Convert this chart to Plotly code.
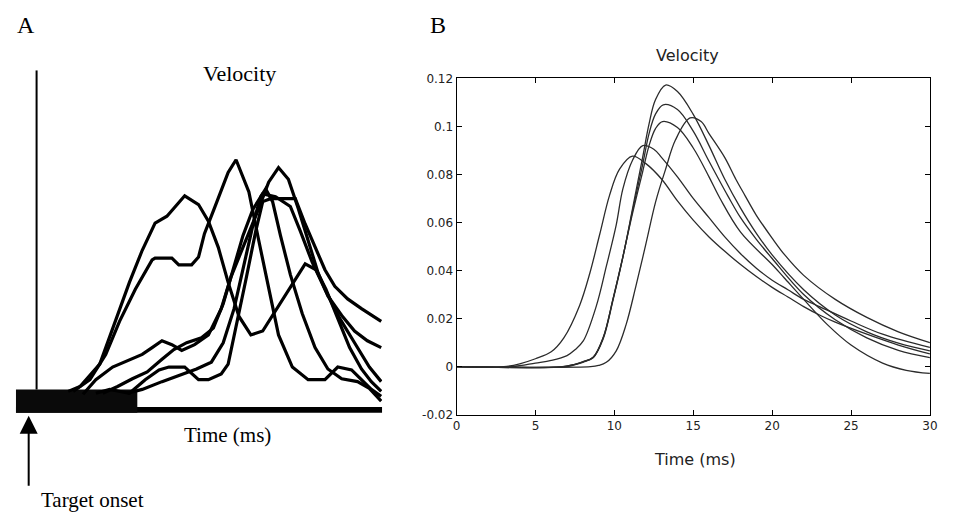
import plotly.graph_objects as go

W, H = 956, 520

# ---------------- Panel B data (time in ms, velocity) ----------------
b_t1 = [0, 3, 4, 5, 6, 6.8, 7.8, 8.45, 9.07, 9.7, 10.33, 11.15, 12, 13, 14, 15, 16, 17, 18, 19, 20, 21, 22, 23, 24, 26, 28, 30]
b_v1 = [0, 0, 0.0012, 0.0033, 0.0062, 0.012, 0.0255, 0.039, 0.055, 0.0714, 0.0822, 0.0876, 0.0845, 0.078, 0.069, 0.061, 0.054, 0.048, 0.0425, 0.0375, 0.033, 0.029, 0.025, 0.0215, 0.0185, 0.0135, 0.0090, 0.0053]

b_t2 = [0, 3.5, 5, 6, 7, 7.5, 8.03, 8.87, 9.49, 10.12, 10.54, 11.16, 11.8, 12.5, 13, 14, 15, 16, 17, 18, 19, 20, 21, 22, 23, 25, 27, 30]
b_v2 = [0, 0, 0.0015, 0.0026, 0.0046, 0.007, 0.0107, 0.0255, 0.0417, 0.059, 0.074, 0.086, 0.092, 0.0905, 0.087, 0.079, 0.070, 0.062, 0.054, 0.047, 0.041, 0.036, 0.032, 0.028, 0.025, 0.019, 0.0135, 0.0080]

b_t3 = [0, 6.7, 7.5, 8, 8.66, 9.29, 9.91, 10.54, 11.16, 11.79, 12.2, 12.6, 13.05, 14, 15, 16, 16.7, 18, 20, 20.76, 22, 23.5, 25, 27, 28.5, 30]
b_v3 = [0, 0, 0.001, 0.002, 0.0039, 0.012, 0.028, 0.0457, 0.064, 0.081, 0.092, 0.099, 0.102, 0.0995, 0.091, 0.079, 0.070, 0.056, 0.0425, 0.037, 0.028, 0.0175, 0.009, 0.0015, -0.0015, -0.0028]

b_t4 = [0, 6.8, 7.5, 8, 8.66, 9.29, 9.91, 10.54, 11.16, 11.79, 12.2, 12.6, 13.1, 14, 15, 16, 17.2, 18, 19, 20, 22, 24, 26, 28, 30]
b_v4 = [0, 0, 0.001, 0.002, 0.0039, 0.012, 0.028, 0.0457, 0.065, 0.084, 0.097, 0.105, 0.109, 0.107, 0.098, 0.0855, 0.071, 0.062, 0.053, 0.045, 0.030, 0.0195, 0.012, 0.0068, 0.0038]

b_t5 = [0, 7.0, 7.5, 8, 8.66, 9.29, 9.91, 10.54, 11.16, 11.79, 12.2, 12.6, 13.25, 14, 15, 16, 17, 18, 19, 20, 22, 24, 26, 28, 30]
b_v5 = [0, 0, 0.0008, 0.0018, 0.0037, 0.0115, 0.0275, 0.0455, 0.066, 0.087, 0.101, 0.111, 0.1172, 0.1145, 0.105, 0.092, 0.078, 0.066, 0.0555, 0.0465, 0.032, 0.0215, 0.0145, 0.0098, 0.0066]

b_t6 = [0, 8.5, 9, 9.49, 10.12, 10.74, 11.37, 12.0, 12.62, 13.25, 13.87, 14.8, 15.5, 16, 17, 17.7, 18.3, 19, 20, 20.8, 22, 24, 26, 28, 30]
b_v6 = [0, 0, 0.0005, 0.0018, 0.0066, 0.0174, 0.0336, 0.0511, 0.0687, 0.0822, 0.0943, 0.1035, 0.102, 0.097, 0.087, 0.078, 0.071, 0.063, 0.0535, 0.0465, 0.038, 0.028, 0.0205, 0.0145, 0.0100]

b_xticks = [0, 5, 10, 15, 20, 25, 30]
b_yticks = [-0.02, 0, 0.02, 0.04, 0.06, 0.08, 0.1, 0.12]
b_yticklabels = ["-0.02", "0", "0.02", "0.04", "0.06", "0.08", "0.1", "0.12"]

# ---------------- Panel A data (arbitrary time units, arbitrary velocity units) ----------------
a_u1 = [53, 65, 85, 98, 115, 128, 141, 153, 171, 185, 195, 205, 215, 226, 238, 250, 263, 278, 293, 304, 314, 326, 338, 350, 360, 370]
a_w1 = [0, 5, 28, 65, 112, 145, 173, 180, 201, 192, 175, 148, 112, 77, 58, 62, 83, 108, 131, 125, 105, 75, 45, 23, 10, 0]

a_u2 = [58, 75, 91, 105, 121, 138, 141, 158, 165, 178, 185, 191, 201, 215, 223, 236, 246, 256, 266, 280, 296, 313, 326, 340, 350, 360, 370]
a_w2 = [0, 12, 38, 72, 105, 135, 137, 137, 130, 130, 138, 162, 188, 225, 238, 205, 155, 105, 58, 25, 12, 12, 25, 22, 12, 2, -5]

a_u3 = [68, 81, 98, 115, 128, 138, 148, 158, 168, 181, 195, 208, 218, 226, 236, 246, 256, 266, 276, 286, 296, 306, 316, 330, 343, 356, 370]
a_w3 = [-3, 12, 25, 32, 38, 45, 52, 48, 42, 48, 58, 85, 118, 138, 162, 188, 215, 230, 218, 188, 155, 122, 98, 78, 62, 52, 45]

a_u4 = [81, 95, 115, 131, 145, 155, 171, 185, 195, 208, 215, 223, 233, 243, 250, 258, 283, 293, 303, 313, 323, 336, 350, 363, 370]
a_w4 = [-2, 2, -2, 12, 22, 25, 25, 12, 12, 18, 28, 65, 115, 165, 195, 198, 198, 172, 148, 125, 108, 95, 85, 77, 72]

a_u5 = [113, 128, 148, 166, 183, 198, 210, 221, 231, 241, 248, 253, 260, 268, 278, 290, 303, 316, 330, 346, 358, 370]
a_w5 = [-2, 2, 10, 17, 23, 30, 50, 85, 130, 175, 200, 208, 195, 160, 120, 80, 45, 23, 13, 10, 3, -10]

a_u6 = [88, 103, 118, 133, 148, 160, 173, 188, 200, 210, 220, 230, 240, 250, 263, 278, 288, 300, 313, 328, 343, 358, 370]
a_w6 = [-2, 5, 13, 20, 33, 43, 50, 55, 65, 90, 125, 160, 187, 203, 200, 190, 165, 133, 105, 75, 50, 25, 10]

# panel A frame elements (same arbitrary units)
a_onset_u = [21, 21]
a_onset_w = [2, 330]
a_block_u = [0, 123, 123, 0, 0]
a_block_w = [2, 2, -22, -22, 2]
a_base_u = [0, 371, 371, 0, 0]
a_base_w = [-16, -16, -22, -22, -16]

# ---------------- layout geometry (pixels) ----------------
A_L, A_R, A_T, A_B = 12, 383, 65, 417.3
B_L, B_R, B_T, B_B = 458.3, 937.7, 73.3, 419.0


def px(x):
    return x / W


def py(y):
    return 1 - y / H


fig = go.Figure()

curve_color = "#2b2b2b"
for t, v in [(b_t1, b_v1), (b_t2, b_v2), (b_t3, b_v3), (b_t4, b_v4), (b_t5, b_v5), (b_t6, b_v6)]:
    fig.add_trace(go.Scatter(x=t, y=v, mode="lines", line=dict(color=curve_color, width=1.3, shape="spline", smoothing=1.0),
                             xaxis="x", yaxis="y", showlegend=False, hoverinfo="skip"))

# panel A frame
fig.add_trace(go.Scatter(x=a_base_u, y=a_base_w, mode="lines", fill="toself", fillcolor="black",
                         line=dict(color="black", width=0), xaxis="x2", yaxis="y2", showlegend=False, hoverinfo="skip"))
fig.add_trace(go.Scatter(x=a_block_u, y=a_block_w, mode="lines", fill="toself", fillcolor="#0a0a0a",
                         line=dict(color="black", width=0), xaxis="x2", yaxis="y2", showlegend=False, hoverinfo="skip"))
fig.add_trace(go.Scatter(x=a_onset_u, y=a_onset_w, mode="lines", line=dict(color="black", width=2),
                         xaxis="x2", yaxis="y2", showlegend=False, hoverinfo="skip"))

for u, w in [(a_u1, a_w1), (a_u2, a_w2), (a_u3, a_w3), (a_u4, a_w4), (a_u5, a_w5), (a_u6, a_w6)]:
    fig.add_trace(go.Scatter(x=u, y=w, mode="lines", line=dict(color="black", width=3.2),
                             xaxis="x2", yaxis="y2", showlegend=False, hoverinfo="skip"))

sans = "DejaVu Sans"
serif = "Liberation Serif"

fig.update_layout(
    width=W, height=H,
    margin=dict(l=0, r=0, t=0, b=0),
    paper_bgcolor="white", plot_bgcolor="white",
    xaxis=dict(domain=[px(B_L), px(B_R)], range=[0, 30], tickvals=b_xticks, ticktext=[str(v) for v in b_xticks],
               ticks="inside", ticklen=5, tickcolor="black", showline=True, linecolor="black", linewidth=1,
               mirror="ticks", showgrid=False, zeroline=False, tickfont=dict(family=sans, size=12, color="#222"),
               anchor="y"),
    yaxis=dict(domain=[py(B_B), py(B_T)], range=[-0.02, 0.12], tickvals=b_yticks, ticktext=b_yticklabels,
               ticks="inside", ticklen=5, tickcolor="black", showline=True, linecolor="black", linewidth=1,
               mirror="ticks", showgrid=False, zeroline=False, tickfont=dict(family=sans, size=12, color="#222"),
               anchor="x"),
    xaxis2=dict(domain=[px(A_L), px(A_R)], range=[0, 371], visible=False, anchor="y2"),
    yaxis2=dict(domain=[py(A_B), py(A_T)], range=[-22.3, 330], visible=False, anchor="x2"),
)

ann = [
    dict(text="A", x=px(22), y=py(18), font=dict(family=serif, size=24, color="black")),
    dict(text="B", x=px(440), y=py(18), font=dict(family=serif, size=24, color="black")),
    dict(text="Velocity", x=px(238), y=py(68), font=dict(family=serif, size=22, color="black")),
    dict(text="Time (ms)", x=px(226), y=py(440), font=dict(family=serif, size=21, color="black")),
    dict(text="Target onset", x=px(90), y=py(507), font=dict(family=serif, size=21, color="black")),
    dict(text="Velocity", x=px(692), y=py(50), font=dict(family=sans, size=16, color="#222")),
    dict(text="Time (ms)", x=px(700), y=py(465), font=dict(family=sans, size=16, color="#222")),
]
for a in ann:
    fig.add_annotation(xref="paper", yref="paper", showarrow=False, xanchor="center", yanchor="middle", **a)

fig.add_annotation(xref="paper", yref="paper", x=px(25), y=py(420), text=" ", showarrow=True,
                   ax=0, ay=74, arrowhead=2, arrowsize=1.8, arrowwidth=2, arrowcolor="black",
                   font=dict(size=4), standoff=0)

fig.write_html("out.html")
